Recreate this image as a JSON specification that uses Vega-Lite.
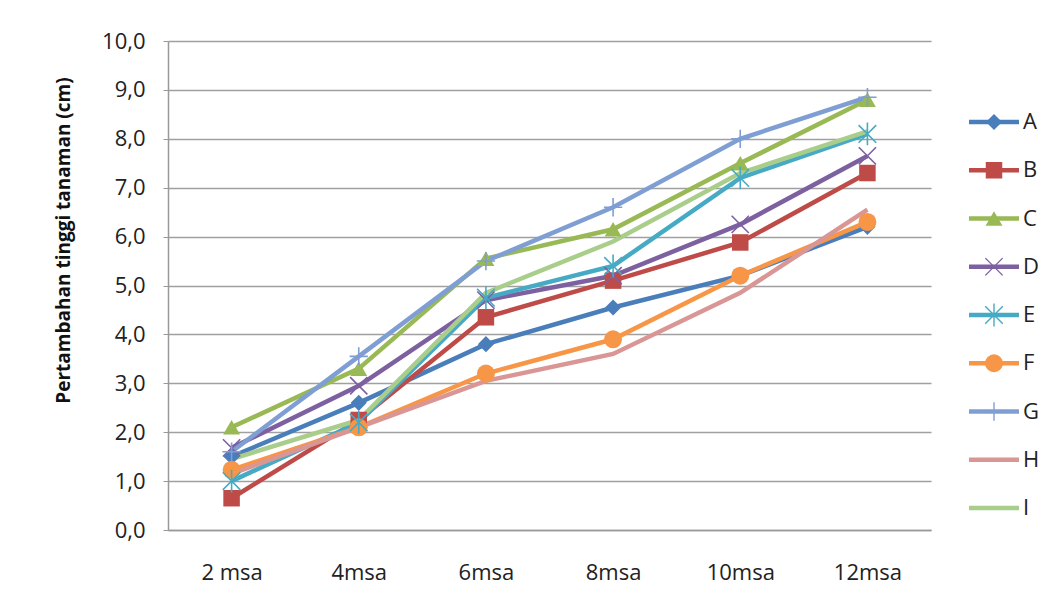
{
  "$schema": "https://vega.github.io/schema/vega-lite/v6.json",
  "background": "white",
  "padding": {"left": 53, "top": 30, "right": 5, "bottom": 5},
  "spacing": 38,
  "bounds": "flush",
  "config": {"view": {"stroke": null}, "font": "Open Sans"},
  "datasets": {
    "growth": [
      {"series": "A", "time": "2 msa", "value": 1.5},
      {"series": "A", "time": "4msa", "value": 2.6},
      {"series": "A", "time": "6msa", "value": 3.8},
      {"series": "A", "time": "8msa", "value": 4.55},
      {"series": "A", "time": "10msa", "value": 5.2},
      {"series": "A", "time": "12msa", "value": 6.2},
      {"series": "B", "time": "2 msa", "value": 0.65},
      {"series": "B", "time": "4msa", "value": 2.25},
      {"series": "B", "time": "6msa", "value": 4.35},
      {"series": "B", "time": "8msa", "value": 5.1},
      {"series": "B", "time": "10msa", "value": 5.88},
      {"series": "B", "time": "12msa", "value": 7.3},
      {"series": "C", "time": "2 msa", "value": 2.1},
      {"series": "C", "time": "4msa", "value": 3.3},
      {"series": "C", "time": "6msa", "value": 5.55},
      {"series": "C", "time": "8msa", "value": 6.15},
      {"series": "C", "time": "10msa", "value": 7.5},
      {"series": "C", "time": "12msa", "value": 8.8},
      {"series": "D", "time": "2 msa", "value": 1.68},
      {"series": "D", "time": "4msa", "value": 2.95},
      {"series": "D", "time": "6msa", "value": 4.7},
      {"series": "D", "time": "8msa", "value": 5.2},
      {"series": "D", "time": "10msa", "value": 6.25},
      {"series": "D", "time": "12msa", "value": 7.65},
      {"series": "E", "time": "2 msa", "value": 1.0},
      {"series": "E", "time": "4msa", "value": 2.2},
      {"series": "E", "time": "6msa", "value": 4.75},
      {"series": "E", "time": "8msa", "value": 5.4},
      {"series": "E", "time": "10msa", "value": 7.2},
      {"series": "E", "time": "12msa", "value": 8.1},
      {"series": "F", "time": "2 msa", "value": 1.23},
      {"series": "F", "time": "4msa", "value": 2.1},
      {"series": "F", "time": "6msa", "value": 3.2},
      {"series": "F", "time": "8msa", "value": 3.9},
      {"series": "F", "time": "10msa", "value": 5.2},
      {"series": "F", "time": "12msa", "value": 6.3},
      {"series": "G", "time": "2 msa", "value": 1.6},
      {"series": "G", "time": "4msa", "value": 3.55},
      {"series": "G", "time": "6msa", "value": 5.5},
      {"series": "G", "time": "8msa", "value": 6.6},
      {"series": "G", "time": "10msa", "value": 8.0},
      {"series": "G", "time": "12msa", "value": 8.85},
      {"series": "H", "time": "2 msa", "value": 1.15},
      {"series": "H", "time": "4msa", "value": 2.1},
      {"series": "H", "time": "6msa", "value": 3.05},
      {"series": "H", "time": "8msa", "value": 3.6},
      {"series": "H", "time": "10msa", "value": 4.85},
      {"series": "H", "time": "12msa", "value": 6.55},
      {"series": "I", "time": "2 msa", "value": 1.45},
      {"series": "I", "time": "4msa", "value": 2.25},
      {"series": "I", "time": "6msa", "value": 4.85},
      {"series": "I", "time": "8msa", "value": 5.9},
      {"series": "I", "time": "10msa", "value": 7.3},
      {"series": "I", "time": "12msa", "value": 8.15}
    ]
  },
  "hconcat": [
    {
      "width": 763,
      "height": 489,
      "data": {"name": "growth"},
      "encoding": {
        "x": {
          "field": "time", "type": "ordinal",
          "sort": ["2 msa", "4msa", "6msa", "8msa", "10msa", "12msa"],
          "scale": {"type": "point", "padding": 0.5},
          "axis": {"title": null, "labelAngle": 0, "labelFontSize": 22, "labelColor": "#222", "labelPadding": 32, "ticks": false, "tickSize": 0, "domainColor": "#999", "domainWidth": 1.5, "grid": false}
        },
        "y": {
          "field": "value", "type": "quantitative",
          "scale": {"domain": [0, 10], "nice": false},
          "axis": {
            "title": "Pertambahan tinggi tanaman (cm)",
            "titleFontSize": 19, "titleFontWeight": "bold", "titleColor": "#111",
            "titleX": -95, "titleY": 199,
            "values": [0, 1, 2, 3, 4, 5, 6, 7, 8, 9, 10],
            "labelExpr": "replace(format(datum.value, '.1f'), '.', ',')",
            "labelFontSize": 22, "labelColor": "#222", "labelPadding": 18,
            "tickSize": 5, "tickColor": "#999", "domainColor": "#999", "domainWidth": 1.5,
            "gridColor": "#a0a0a0", "gridWidth": 1.3
          }
        },
        "color": {
          "field": "series", "type": "nominal",
          "scale": {"domain": ["A", "B", "C", "D", "E", "F", "G", "H", "I"], "range": ["#4A7EBB", "#BE4B48", "#98B954", "#7D60A0", "#46AAC5", "#F79646", "#7F9ED3", "#D99694", "#A9CD8A"]},
          "legend": null
        }
      },
      "layer": [
        {"mark": {"type": "line", "strokeWidth": 4.5}},
        {
          "transform": [{"filter": {"field": "series", "oneOf": ["A", "B", "C", "F"]}}],
          "mark": {"type": "point", "filled": true, "opacity": 1},
          "encoding": {
            "shape": {"field": "series", "type": "nominal", "scale": {"domain": ["A", "B", "C", "D", "E", "F", "G", "H", "I"], "range": ["diamond", "square", "triangle-up", "M-1,-1L1,1M-1,1L1,-1", "M-1,-1L1,1M-1,1L1,-1M0,-1.3L0,1.3", "circle", "M0,-1L0,1M-1,0L1,0", "circle", "circle"]}, "legend": null},
            "size": {"field": "series", "type": "ordinal", "scale": {"domain": ["A", "B", "C", "D", "E", "F", "G", "H", "I"], "range": [260, 360, 330, 220, 280, 260, 280, 0, 0]}, "legend": null}
          }
        },
        {
          "transform": [{"filter": {"field": "series", "oneOf": ["D", "E", "G"]}}],
          "mark": {"type": "point", "filled": false, "opacity": 1, "strokeWidth": 1.6},
          "encoding": {
            "shape": {"field": "series", "type": "nominal", "scale": {"domain": ["A", "B", "C", "D", "E", "F", "G", "H", "I"], "range": ["diamond", "square", "triangle-up", "M-1,-1L1,1M-1,1L1,-1", "M-1,-1L1,1M-1,1L1,-1M0,-1.3L0,1.3", "circle", "M0,-1L0,1M-1,0L1,0", "circle", "circle"]}, "legend": null},
            "size": {"field": "series", "type": "ordinal", "scale": {"domain": ["A", "B", "C", "D", "E", "F", "G", "H", "I"], "range": [260, 360, 330, 220, 280, 260, 280, 0, 0]}, "legend": null}
          }
        }
      ]
    },
    {
      "width": 50,
      "height": 489,
      "data": {"name": "growth"},
      "transform": [{"filter": "datum.time === '2 msa'"}],
      "encoding": {
        "y": {"field": "series", "type": "nominal", "scale": {"type": "point", "padding": 0, "domain": ["A", "B", "C", "D", "E", "F", "G", "H", "I"], "range": [81, 467]}, "axis": null},
        "color": {
          "field": "series", "type": "nominal",
          "scale": {"domain": ["A", "B", "C", "D", "E", "F", "G", "H", "I"], "range": ["#4A7EBB", "#BE4B48", "#98B954", "#7D60A0", "#46AAC5", "#F79646", "#7F9ED3", "#D99694", "#A9CD8A"]},
          "legend": null
        }
      },
      "layer": [
        {
          "mark": {"type": "rule", "strokeWidth": 4.5},
          "encoding": {
            "x": {"datum": 0, "type": "quantitative", "scale": {"domain": [0, 1]}, "axis": null},
            "x2": {"datum": 1}
          }
        },
        {
          "transform": [{"filter": {"field": "series", "oneOf": ["A", "B", "C", "F"]}}],
          "mark": {"type": "point", "filled": true, "opacity": 1},
          "encoding": {
            "x": {"datum": 0.5, "type": "quantitative", "scale": {"domain": [0, 1]}, "axis": null},
            "shape": {"field": "series", "type": "nominal", "scale": {"domain": ["A", "B", "C", "D", "E", "F", "G", "H", "I"], "range": ["diamond", "square", "triangle-up", "M-1,-1L1,1M-1,1L1,-1", "M-1,-1L1,1M-1,1L1,-1M0,-1.3L0,1.3", "circle", "M0,-1L0,1M-1,0L1,0", "circle", "circle"]}, "legend": null},
            "size": {"field": "series", "type": "ordinal", "scale": {"domain": ["A", "B", "C", "D", "E", "F", "G", "H", "I"], "range": [200, 300, 260, 220, 280, 240, 280, 0, 0]}, "legend": null}
          }
        },
        {
          "transform": [{"filter": {"field": "series", "oneOf": ["D", "E", "G"]}}],
          "mark": {"type": "point", "filled": false, "opacity": 1, "strokeWidth": 1.4},
          "encoding": {
            "x": {"datum": 0.5, "type": "quantitative", "scale": {"domain": [0, 1]}, "axis": null},
            "shape": {"field": "series", "type": "nominal", "scale": {"domain": ["A", "B", "C", "D", "E", "F", "G", "H", "I"], "range": ["diamond", "square", "triangle-up", "M-1,-1L1,1M-1,1L1,-1", "M-1,-1L1,1M-1,1L1,-1M0,-1.3L0,1.3", "circle", "M0,-1L0,1M-1,0L1,0", "circle", "circle"]}, "legend": null},
            "size": {"field": "series", "type": "ordinal", "scale": {"domain": ["A", "B", "C", "D", "E", "F", "G", "H", "I"], "range": [200, 300, 260, 220, 280, 240, 280, 0, 0]}, "legend": null}
          }
        },
        {
          "mark": {"type": "text", "align": "left", "baseline": "middle", "dx": 4, "fontSize": 22, "color": "#222"},
          "encoding": {
            "x": {"datum": 1, "type": "quantitative", "scale": {"domain": [0, 1]}, "axis": null},
            "text": {"field": "series"},
            "color": {"value": "#222"}
          }
        }
      ]
    }
  ]
}
